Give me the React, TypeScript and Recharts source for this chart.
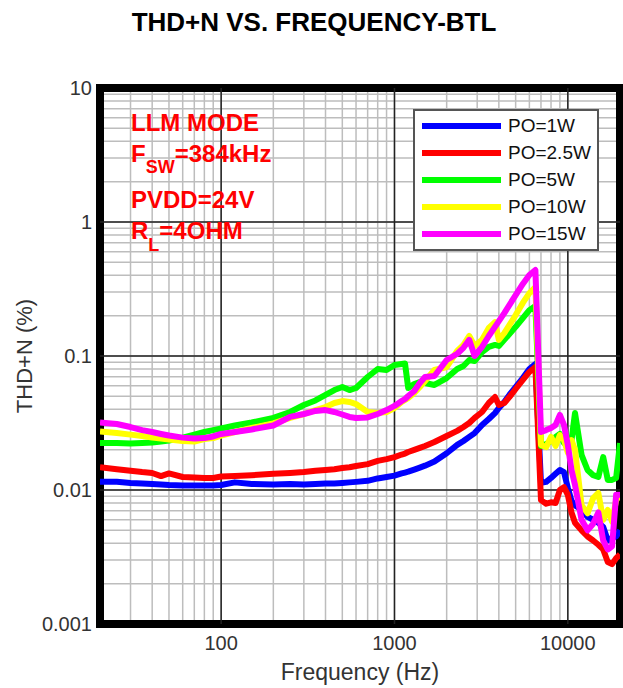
import React from 'react';
import {
  LineChart, Line, XAxis, YAxis, CartesianGrid, ReferenceLine, ReferenceArea, Legend
} from 'recharts';

const FONT = '"Liberation Sans", Arial, sans-serif';

// frequency points (Hz)
const FREQ = [
  20, 25, 30, 35, 40, 45, 50, 60, 70, 80, 90, 100, 120, 150, 200, 250, 300, 350, 400, 450,
  500, 550, 600, 700, 800, 900, 1000, 1100, 1150, 1200, 1300, 1400, 1500, 1700, 2000, 2300,
  2500, 2700, 2900, 3200, 3500, 3800, 4000, 4300, 4600, 5000, 5500, 6000, 6500, 7000, 7500,
  8000, 8500, 9000, 9500, 10000, 10500, 11000, 12000, 13000, 14000, 15000, 16000, 17000,
  18000, 19000, 20000,
];

// THD+N (%) per output power
const PO_1W = [
  0.0115, 0.0115, 0.0113, 0.0112, 0.0111, 0.0110, 0.0109, 0.0108, 0.0108, 0.0108, 0.0108,
  0.0109, 0.0114, 0.0111, 0.0110, 0.0111, 0.0110, 0.0111, 0.0112, 0.0112, 0.0113, 0.0114,
  0.0115, 0.0117, 0.0122, 0.0125, 0.0128, 0.0133, 0.0135, 0.0137, 0.0142, 0.0147, 0.0152,
  0.0163, 0.0188, 0.0217, 0.0232, 0.0249, 0.0266, 0.0306, 0.0339, 0.0375, 0.0409, 0.0454,
  0.0512, 0.0587, 0.0685, 0.0800, 0.0872, 0.0113, 0.0115, 0.0123, 0.0132, 0.0141, 0.0136,
  0.0104, 0.0083, 0.0077, 0.0071, 0.0063, 0.0060, 0.0057, 0.0053, 0.0042, 0.0044, 0.0045,
  0.0050,
];
const PO_2_5W = [
  0.0148, 0.0143, 0.0139, 0.0136, 0.0134, 0.0127, 0.0133, 0.0125, 0.0124, 0.0123, 0.0123,
  0.0126, 0.0127, 0.0129, 0.0132, 0.0134, 0.0136, 0.0139, 0.0141, 0.0143, 0.0146, 0.0148,
  0.0151, 0.0156, 0.0165, 0.0170, 0.0176, 0.0184, 0.0187, 0.0192, 0.0199, 0.0206, 0.0213,
  0.0228, 0.0253, 0.0276, 0.0295, 0.0316, 0.0345, 0.0382, 0.0446, 0.0494, 0.0431, 0.0446,
  0.0494, 0.0567, 0.0662, 0.0760, 0.0828, 0.0084, 0.0079, 0.0081, 0.0080, 0.0100, 0.0105,
  0.0092, 0.0068, 0.0057, 0.0050, 0.0045, 0.0042, 0.0039, 0.0036, 0.0029, 0.0028, 0.0031,
  0.0033,
];
const PO_5W = [
  0.0224, 0.0224, 0.0222, 0.0224, 0.0226, 0.0230, 0.0234, 0.0246, 0.0259, 0.0271, 0.0280,
  0.0288, 0.0303, 0.0319, 0.0345, 0.0382, 0.0431, 0.0466, 0.0512, 0.0557, 0.0587, 0.0557,
  0.0577, 0.0697, 0.0800, 0.0786, 0.0857, 0.0872, 0.0879, 0.0577, 0.0618, 0.0640, 0.0629,
  0.0608, 0.0685, 0.0800, 0.0842, 0.0934, 0.0918, 0.107, 0.117, 0.121, 0.119, 0.132,
  0.146, 0.165, 0.192, 0.220, 0.236, 0.0213, 0.0220, 0.0232, 0.0249, 0.0262, 0.0224,
  0.0217, 0.0236, 0.0375, 0.0183, 0.0141, 0.0129, 0.0125, 0.0176, 0.0119, 0.0119, 0.0123,
  0.0224,
];
const PO_10W = [
  0.0273, 0.0266, 0.0259, 0.0253, 0.0246, 0.0242, 0.0238, 0.0232, 0.0230, 0.0240, 0.0244,
  0.0255, 0.0271, 0.0290, 0.0314, 0.0345, 0.0369, 0.0395, 0.0416, 0.0446, 0.0461, 0.0454,
  0.0438, 0.0382, 0.0375, 0.0382, 0.0409, 0.0454, 0.0470, 0.0486, 0.0530, 0.0587, 0.0651,
  0.0786, 0.0828, 0.109, 0.121, 0.141, 0.119, 0.132, 0.162, 0.179, 0.132, 0.148,
  0.170, 0.202, 0.249, 0.295, 0.327, 0.0217, 0.0209, 0.0249, 0.0213, 0.0257, 0.0236,
  0.0190, 0.0236, 0.0200, 0.0077, 0.0067, 0.0087, 0.0095, 0.0060, 0.0071, 0.0058, 0.0084,
  0.0092,
];
const PO_15W = [
  0.0319, 0.0311, 0.0295, 0.0280, 0.0271, 0.0262, 0.0255, 0.0246, 0.0242, 0.0244, 0.0251,
  0.0262, 0.0271, 0.0283, 0.0303, 0.0351, 0.0369, 0.0389, 0.0395, 0.0382, 0.0366, 0.0351,
  0.0345, 0.0348, 0.0369, 0.0395, 0.0424, 0.0461, 0.0478, 0.0503, 0.0548, 0.0629, 0.0697,
  0.0709, 0.0934, 0.104, 0.115, 0.132, 0.100, 0.117, 0.141, 0.165, 0.182, 0.209,
  0.240, 0.285, 0.345, 0.402, 0.438, 0.0271, 0.0280, 0.0290, 0.0306, 0.0363, 0.0306,
  0.0217, 0.0141, 0.0109, 0.0060, 0.0050, 0.0056, 0.0068, 0.0042, 0.0036, 0.0038, 0.0092,
  0.0092,
];

const SERIES = [
  { key: 'po1', name: 'PO=1W', color: '#0000ff', values: PO_1W },
  { key: 'po25', name: 'PO=2.5W', color: '#ff0000', values: PO_2_5W },
  { key: 'po5', name: 'PO=5W', color: '#00ff00', values: PO_5W },
  { key: 'po10', name: 'PO=10W', color: '#ffff00', values: PO_10W },
  { key: 'po15', name: 'PO=15W', color: '#ff00ff', values: PO_15W },
];

// grid / tick values
const X_GRID = [
  20, 30, 40, 50, 60, 70, 80, 90, 100, 200, 300, 400, 500, 600, 700, 800, 900,
  1000, 2000, 3000, 4000, 5000, 6000, 7000, 8000, 9000, 10000, 20000,
];
const X_MAJOR = [100, 1000, 10000];
const Y_GRID = [
  0.001, 0.002, 0.003, 0.004, 0.005, 0.006, 0.007, 0.008, 0.009,
  0.01, 0.02, 0.03, 0.04, 0.05, 0.06, 0.07, 0.08, 0.09,
  0.1, 0.2, 0.3, 0.4, 0.5, 0.6, 0.7, 0.8, 0.9,
  1, 2, 3, 4, 5, 6, 7, 8, 9, 10,
];
const Y_LABELED = [0.001, 0.01, 0.1, 1, 10];
const Y_MAJOR = [0.01, 0.1, 1];

const rows = FREQ.map((f, i) => {
  const r: Record<string, number> = { f };
  SERIES.forEach(s => { r[s.key] = s.values[i]; });
  return r;
});

const seriesIndex = (name: string) => SERIES.findIndex(s => s.name === name);

const LegendBox = (props: any) => {
  // keep the series order (recharts sorts legend items by name)
  const items = [...(props.payload || [])].sort((a: any, b: any) => seriesIndex(a.value) - seriesIndex(b.value));
  return (
    <div style={{
      width: 186, height: 142, boxSizing: 'border-box', border: '2px solid #555',
      background: '#fff', paddingTop: 1, fontFamily: FONT,
    }}>
      {items.map((e: any) => (
        <div key={e.value} style={{ display: 'flex', alignItems: 'center', height: 27 }}>
          <span style={{ display: 'inline-block', width: 79, height: 6, background: e.color, marginLeft: 7, marginRight: 7 }} />
          <span style={{ fontSize: 19, color: '#111' }}>{e.value}</span>
        </div>
      ))}
    </div>
  );
};

export default function App() {
  const tick = { fill: '#333', fontSize: 20, fontFamily: FONT };
  return (
    <div style={{ position: 'absolute', left: 0, top: 0, width: 623, height: 688, background: '#fff' }}>
      <LineChart width={623} height={688} data={rows} margin={{ top: 88, right: 3, bottom: 0, left: 0 }}>
        <CartesianGrid stroke="#bdbdbd" strokeWidth={1.5} />
        {X_MAJOR.map(v => (
          <ReferenceLine key={'x' + v} x={v} stroke="#222" strokeWidth={1.5} />
        ))}
        {Y_MAJOR.map(v => (
          <ReferenceLine key={'y' + v} y={v} stroke="#222" strokeWidth={1.5} />
        ))}
        <XAxis
          dataKey="f" type="number" scale="log" domain={[20, 20000]} allowDataOverflow
          ticks={X_GRID} interval={0} height={64}
          tickFormatter={(v: number) => (X_MAJOR.includes(v) ? String(v) : '')}
          tick={tick} tickLine={false} tickSize={0} tickMargin={12} axisLine={false}
          label={{ value: 'Frequency (Hz)', position: 'insideBottom', offset: 8, fill: '#333', fontSize: 23, fontFamily: FONT }}
        />
        <YAxis
          type="number" scale="log" domain={[0.001, 10]} allowDataOverflow
          ticks={Y_GRID} interval={0} width={100}
          tickFormatter={(v: number) => (Y_LABELED.includes(v) ? String(v) : '')}
          tick={tick} tickLine={false} tickSize={0} tickMargin={8} axisLine={false}
          label={{ value: 'THD+N (%)', angle: -90, position: 'insideLeft', offset: 24, fill: '#333', fontSize: 22, fontFamily: FONT, style: { textAnchor: 'middle' } }}
        />
        {SERIES.map(s => (
          <Line
            key={s.key} dataKey={s.key} name={s.name} stroke={s.color} strokeWidth={6}
            dot={false} type="linear" isAnimationActive={false} strokeLinejoin="round"
          />
        ))}
        <ReferenceArea x1={20} x2={20000} y1={0.001} y2={10} fill="none" stroke="#000" strokeWidth={8} />
        <Legend
          layout="vertical" align="center" verticalAlign="middle" content={LegendBox}
          wrapperStyle={{ left: 413, top: 109, width: 186, height: 142 }}
        />
      </LineChart>
      <svg width={623} height={688} style={{ position: 'absolute', left: 0, top: 0, pointerEvents: 'none' }}>
        <text x={314} y={31} textAnchor="middle" fontFamily={FONT} fontWeight="bold" fontSize={26} fill="#000">
          THD+N VS. FREQUENCY-BTL
        </text>
        <g fontFamily={FONT} fontWeight="bold" fill="#ff0000">
          <text x={131} y={131} fontSize={24}>LLM MODE</text>
          <text x={131} y={162} fontSize={24}>
            F<tspan fontSize={18} dy={11}>SW</tspan><tspan dy={-11}>=384kHz</tspan>
          </text>
          <text x={131} y={208} fontSize={24}>PVDD=24V</text>
          <text x={131} y={239} fontSize={24}>
            R<tspan fontSize={18} dy={12}>L</tspan><tspan dy={-12}>=4OHM</tspan>
          </text>
        </g>
      </svg>
    </div>
  );
}
